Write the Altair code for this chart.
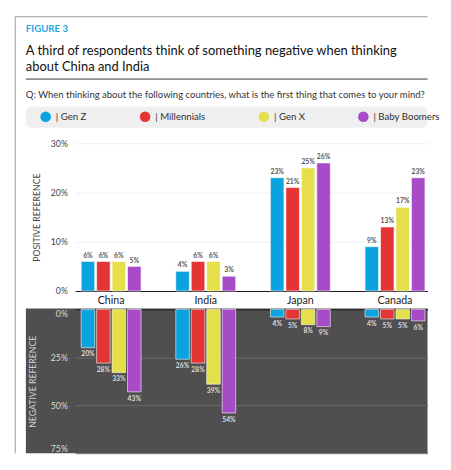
import altair as alt
import pandas as pd

FONT = "Lato"

countries = ["China", "India", "Japan", "Canada"]
generations = ["Gen Z", "Millennials", "Gen X", "Baby Boomers"]
colors = ["#0ba3df", "#e53434", "#e4df4b", "#a84bc8"]

pos_genz = [6, 4, 23, 9]
pos_millennials = [6, 6, 21, 13]
pos_genx = [6, 6, 25, 17]
pos_boomers = [5, 3, 26, 23]

neg_genz = [20, 26, 4, 4]
neg_millennials = [28, 28, 5, 5]
neg_genx = [33, 39, 8, 5]
neg_boomers = [43, 54, 9, 6]

y_top_ticks = [0, 10, 20, 30]
y_bot_ticks = [0, 25, 50, 75]

fig_label = "FIGURE 3"
title_line1 = "A third of respondents think of something negative when thinking"
title_line2 = "about China and India"
question = "Q: When thinking about the following countries, what is the first thing that comes to your mind?"


def build(series):
    rows = []
    for g, vals in zip(generations, series):
        for c, v in zip(countries, vals):
            rows.append({"country": c, "generation": g, "value": v})
    return pd.DataFrame(rows)


pos_df = build([pos_genz, pos_millennials, pos_genx, pos_boomers])
neg_df = build([neg_genz, neg_millennials, neg_genx, neg_boomers])
deco = pd.DataFrame({"k": [0]})

W = 365
R = 365   # right edge of decorations (relative to plot left)
B = 321   # bottom edge of decorations (relative to top plot top)
x_scale = alt.Scale(domain=countries, paddingInner=0.367, paddingOuter=0.0457, align=0.7)
xo_scale = alt.Scale(domain=generations, paddingInner=0.125, paddingOuter=0)
c_scale = alt.Scale(domain=generations, range=colors)

# ---------- top (positive) ----------
x_top = alt.X("country:N", scale=x_scale, sort=countries,
              axis=alt.Axis(title=None, orient="bottom", domainColor="#111", domainWidth=1,
                            ticks=False, labelFontSize=11, labelColor="#222", labelPadding=4,
                            labelAngle=0, grid=False))
xo = alt.XOffset("generation:N", scale=xo_scale, sort=generations)
y_top = alt.Y("value:Q", scale=alt.Scale(domain=[0, 30], nice=False),
              axis=alt.Axis(title="POSITIVE REFERENCE", values=y_top_ticks,
                            labelExpr="datum.value + '%'", grid=True, gridColor="#efefef",
                            domain=False, ticks=False, labelPadding=8, titlePadding=9,
                            titleFontSize=9, titleFontWeight="normal", titleColor="#444",
                            labelColor="#444", labelFontSize=9))

bars_top = alt.Chart(pos_df).mark_bar(stroke="white", strokeWidth=0.6).encode(
    x=x_top, xOffset=xo, y=y_top,
    color=alt.Color("generation:N", scale=c_scale, sort=generations,
                    legend=alt.Legend(title=None, orient="none", legendX=-36, legendY=-33,
                                      direction="horizontal", symbolType="circle",
                                      symbolSize=121, symbolStrokeWidth=0,
                                      labelExpr="'|  ' + datum.label", labelFontSize=10,
                                      labelColor="#333", labelOffset=5, columnPadding=52,
                                      padding=0)),
)
labels_top = alt.Chart(pos_df).transform_calculate(
    label="datum.value + '%'"
).mark_text(baseline="bottom", dy=-3, fontSize=7, fontWeight="bold", color="#555").encode(
    x=alt.X("country:N", scale=x_scale, sort=countries), xOffset=xo,
    y=alt.Y("value:Q"), text="label:N")

d = alt.Chart(deco)
frame_left = d.mark_rule(color="#999", strokeWidth=1).encode(
    x=alt.value(-62), y=alt.value(-131), y2=alt.value(B))
frame_top = d.mark_rule(color="#999", strokeWidth=1).encode(
    x=alt.value(-62), x2=alt.value(R), y=alt.value(-131))
dark_bg = d.mark_rect(color="#4f4f4f").encode(
    x=alt.value(-51), x2=alt.value(R), y=alt.value(171), y2=alt.value(B))
fig_txt = d.mark_text(align="left", baseline="alphabetic", fontSize=10, fontWeight="bold",
                      color="#29a6df").encode(x=alt.value(-51), y=alt.value(-115),
                                              text=alt.value(fig_label))
title_txt1 = d.mark_text(align="left", baseline="alphabetic", fontSize=13.4, color="#111").encode(
    x=alt.value(-51), y=alt.value(-91), text=alt.value(title_line1))
title_txt2 = d.mark_text(align="left", baseline="alphabetic", fontSize=13.4, color="#111").encode(
    x=alt.value(-51), y=alt.value(-75), text=alt.value(title_line2))
title_rule = d.mark_rule(color="#333", strokeWidth=1).encode(
    x=alt.value(-51), x2=alt.value(R), y=alt.value(-66.5))
q_txt = d.mark_text(align="left", baseline="alphabetic", fontSize=9.85, color="#333").encode(
    x=alt.value(-51), y=alt.value(-47), text=alt.value(question))
legend_box = d.mark_rect(color="#efefef", cornerRadius=6).encode(
    x=alt.value(-51), x2=alt.value(R), y=alt.value(-38), y2=alt.value(-16))

top = alt.layer(frame_left, frame_top, dark_bg, fig_txt, title_txt1, title_txt2, title_rule,
                q_txt, legend_box, bars_top, labels_top).properties(width=W, height=153)

# ---------- bottom (negative) ----------
x_bot = alt.X("country:N", scale=x_scale, sort=countries,
              axis=alt.Axis(title=None, orient="top", labels=False, ticks=False,
                            domainColor="#111", domainWidth=1, grid=False))
y_bot = alt.Y("value:Q", scale=alt.Scale(domain=[0, 75], reverse=True, nice=False),
              axis=alt.Axis(title="NEGATIVE REFERENCE", values=y_bot_ticks,
                            labelExpr="datum.value + '%'", grid=True, gridColor="#6a6a6a",
                            domain=False, ticks=False, labelPadding=8, titlePadding=13,
                            labelFlush=True, titleFontSize=9, titleFontWeight="normal",
                            titleColor="#d0d0d0", labelColor="#dddddd", labelFontSize=9))
bars_bot = alt.Chart(neg_df).mark_bar(stroke="white", strokeWidth=0.6).encode(
    x=x_bot, xOffset=xo, y=y_bot,
    color=alt.Color("generation:N", scale=c_scale, sort=generations, legend=None))
labels_bot = alt.Chart(neg_df).transform_calculate(
    label="datum.value + '%'"
).mark_text(baseline="top", dy=3, fontSize=7, fontWeight="bold", color="#dddddd").encode(
    x=alt.X("country:N", scale=x_scale, sort=countries), xOffset=xo,
    y=alt.Y("value:Q"), text="label:N")
bottom = alt.layer(bars_bot, labels_bot).properties(width=W, height=149)

chart = alt.vconcat(top, bottom, spacing=19, bounds="flush").resolve_scale(
    color="independent").resolve_legend(color="independent").properties(
    padding={"left": 6.5, "top": 0, "right": 0, "bottom": 0},
    background="white").configure(font=FONT).configure_view(strokeWidth=0)

chart.save("out.html", embed_options={"renderer": "svg", "actions": False})
